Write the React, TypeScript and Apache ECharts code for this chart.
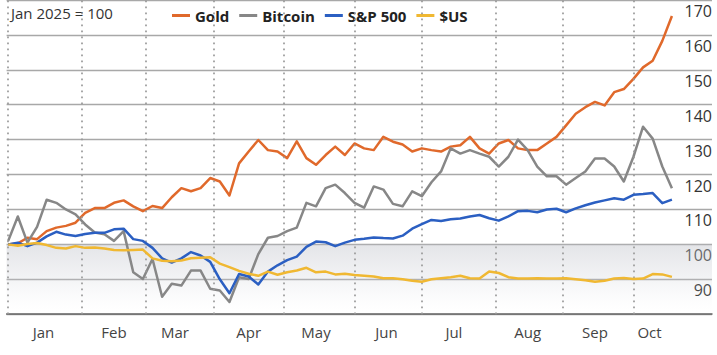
import { useEffect, useRef } from "react";
import * as echarts from "echarts";

// ---- data -------------------------------------------------------------
// x axis: trading weekdays from 1 Jan 2025; series sampled every 3rd weekday
const START_YEAR = 2025;
const DAY_COUNT = 220;
const STEP = 3;
const LAST_MONTH_LINE = "2025-10";

const monthNames = ["Jan", "Feb", "Mar", "Apr", "May", "Jun", "Jul", "Aug", "Sep", "Oct", "Nov", "Dec"];
const monthLabelDates = [
  "2025-01-16", "2025-02-17", "2025-03-14", "2025-04-16", "2025-05-15",
  "2025-06-16", "2025-07-15", "2025-08-15", "2025-09-15", "2025-10-08",
];

const goldValues = [
  100, 100.3, 101.9, 101.5, 103.8, 104.8, 105.3, 106.2, 109, 110.4,
  110.4, 111.9, 112.6, 110.9, 109.5, 111, 110.4, 113.5, 116.1, 115.2,
  116.1, 119, 118, 114, 123.2, 126.6, 129.9, 127, 126.6, 124.7,
  129.5, 124.7, 122.8, 125.6, 128, 125.6, 128.9, 127.5, 127, 130.8,
  129.4, 128.6, 126.6, 127.5, 127, 126.6, 128, 128.4, 130.8, 127.5,
  126, 128.9, 129.9, 127.5, 127, 127, 128.9, 130.8, 134.1, 137.4,
  139.3, 140.8, 139.8, 143.6, 144.5, 147.4, 150.7, 152.6, 158.3, 165.4,
];

const bitcoinValues = [
  101, 108, 100.5, 105, 112.8, 111.9, 110, 108.6, 105.7, 103.4,
  102.9, 101, 103.8, 92, 90.1, 95.8, 85, 88.7, 88.2, 92.5,
  92.5, 87.3, 86.8, 83.5, 90.6, 90.1, 97.2, 101.9, 102.4, 103.8,
  104.8, 111.9, 110.9, 116.1, 117.1, 114.7, 111.9, 110.5, 116.6, 115.7,
  111.6, 110.9, 115.2, 113.8, 117.8, 120.9, 127.5, 126, 127, 126,
  125.1, 122.3, 125.1, 130, 127, 122.3, 119.5, 119.5, 117.1, 119,
  120.9, 124.6, 124.6, 122.3, 118, 125.1, 133.7, 130.3, 122.3, 116.1,
];

const spxValues = [
  100, 100.5, 99.5, 100.5, 102.3, 103.6, 102.8, 102.4, 103, 103.3,
  103.3, 104.3, 104.5, 101.5, 101, 99, 96, 94.8, 96, 97.8,
  96.8, 95, 90, 86, 91.5, 90.8, 88.5, 92.2, 94, 95.5,
  96.5, 99.3, 100.8, 100.6, 99.5, 100.5, 101.3, 101.6, 102, 101.8,
  101.7, 102.5, 104.5, 105.8, 107, 106.7, 107.2, 107.4, 108, 108.4,
  107.5, 106.8, 108, 109.5, 109.6, 109.2, 110, 110.2, 109.2, 110.3,
  111.2, 112, 112.6, 113.2, 112.8, 114.2, 114.4, 114.7, 111.8, 112.8,
];

const usdValues = [
  100, 99.6, 100.1, 100.4, 99.8, 99, 98.8, 99.5, 99, 99.1,
  98.8, 98.4, 98.3, 98.4, 98.5, 96, 95.3, 95.2, 95.4, 96,
  96.2, 96.3, 94.5, 93.5, 92.4, 91.6, 91, 92.2, 91.3, 92,
  92.5, 93.3, 92, 92.2, 91.4, 91.6, 91.2, 91, 90.8, 90.3,
  90.3, 90, 89.6, 89.3, 90, 90.3, 90.6, 91, 90.3, 90.2,
  92.2, 91.8, 90.6, 90.2, 90.2, 90.3, 90.2, 90.2, 90.3, 90,
  89.7, 89.3, 89.6, 90.2, 90.4, 90.1, 90.2, 91.5, 91.4, 90.7,
];

const seriesNames = ["Gold", "Bitcoin", "S&P 500", "$US"];
const seriesColors = ["#e0692b", "#878787", "#2b5fc2", "#f0b832"];
const seriesValues = [goldValues, bitcoinValues, spxValues, usdValues];

const yMin = 80;
const yMax = 170;
const yStep = 10;
const baseValue = 100;

// ---- helpers ----------------------------------------------------------
function buildWeekdays(year: number, count: number): string[] {
  const out: string[] = [];
  const d = new Date(Date.UTC(year, 0, 1));
  while (out.length < count) {
    const wd = d.getUTCDay();
    if (wd !== 0 && wd !== 6) out.push(d.toISOString().slice(0, 10));
    d.setUTCDate(d.getUTCDate() + 1);
  }
  return out;
}

const FONT = "'Open Sans', 'Noto Sans', sans-serif";

export default function App() {
  const ref = useRef<HTMLDivElement>(null);

  useEffect(() => {
    if (!ref.current) return;
    const chart = echarts.init(ref.current, undefined, { renderer: "svg" });
    const days = buildWeekdays(START_YEAR, DAY_COUNT);

    const monthStartIdx: number[] = [];
    days.forEach((d, i) => {
      const isStart = i === 0 || d.slice(5, 7) !== days[i - 1].slice(5, 7);
      if (isStart && d.slice(0, 7) <= LAST_MONTH_LINE) monthStartIdx.push(i);
    });
    const labelIdx = new Set<number>();
    days.forEach((d, i) => {
      if (monthLabelDates.indexOf(d) >= 0) labelIdx.add(i);
    });

    const series: any[] = seriesNames.map((name, si) => ({
      name,
      type: "line",
      data: seriesValues[si].map((v, k) => [k * STEP, v]),
      showSymbol: false,
      symbol: "none",
      color: seriesColors[si],
      lineStyle: { width: 2.5, color: seriesColors[si], join: "round" },
      z: 3 + si,
      silent: true,
    }));
    series[0].markArea = {
      silent: true,
      itemStyle: {
        color: {
          type: "linear", x: 0, y: 0, x2: 0, y2: 1,
          colorStops: [
            { offset: 0, color: "rgba(190,192,200,0.42)" },
            { offset: 0.45, color: "rgba(200,202,210,0.25)" },
            { offset: 0.8, color: "rgba(220,222,228,0.08)" },
            { offset: 1, color: "rgba(255,255,255,0)" },
          ],
        },
      },
      data: [[{ yAxis: baseValue }, { yAxis: yMin }]],
    };
    series[0].markLine = {
      silent: true,
      symbol: ["none", "none"],
      animation: false,
      label: { show: false },
      lineStyle: { color: "#999999", width: 1.7, type: [1.7, 4.3], opacity: 1 },
      emphasis: { disabled: true },
      data: monthStartIdx.map((i) => ({ xAxis: i })),
    };

    chart.setOption({
      animation: false,
      backgroundColor: "#ffffff",
      textStyle: { fontFamily: FONT },
      grid: { left: 6.6, right: 5, top: -3.6, bottom: 40.8, containLabel: false },
      legend: {
        left: 167,
        top: 3,
        icon: "rect",
        itemWidth: 18,
        itemHeight: 3,
        itemGap: 10,
        data: seriesNames,
        textStyle: { fontSize: 15, fontWeight: "bold", color: "#222", fontFamily: FONT },
        selectedMode: false,
      },
      graphic: [
        {
          type: "text",
          left: 11,
          top: 5,
          style: { text: "Jan 2025 = 100", fontSize: 15, fill: "#333", fontFamily: FONT },
        },
      ],
      xAxis: {
        type: "category",
        data: days,
        boundaryGap: true,
        axisLine: { show: true, lineStyle: { color: "#666", width: 1.5 } },
        axisTick: { show: false },
        axisLabel: {
          interval: (i: number) => labelIdx.has(i),
          formatter: (v: string) => monthNames[parseInt(String(v).slice(5, 7), 10) - 1],
          fontSize: 15,
          color: "#444",
          margin: 10,
          fontFamily: FONT,
        },
        splitLine: { show: false },
      },
      yAxis: {
        type: "value",
        position: "right",
        min: yMin,
        max: yMax,
        interval: yStep,
        axisLine: { show: false },
        axisTick: { show: false },
        axisLabel: {
          inside: true,
          margin: 0,
          fontSize: 16,
          color: "#333",
          verticalAlign: "top",
          padding: [3, 0, 0, 0],
          showMinLabel: false,
          fontFamily: FONT,
        },
        splitLine: { show: true, lineStyle: { color: "#a8a8a8", width: 1.3 } },
      },
      series,
    });

    return () => chart.dispose();
  }, []);

  return (
    <div
      ref={ref}
      style={{ position: "fixed", left: 0, top: 0, width: 717, height: 355, background: "#fff" }}
    />
  );
}
